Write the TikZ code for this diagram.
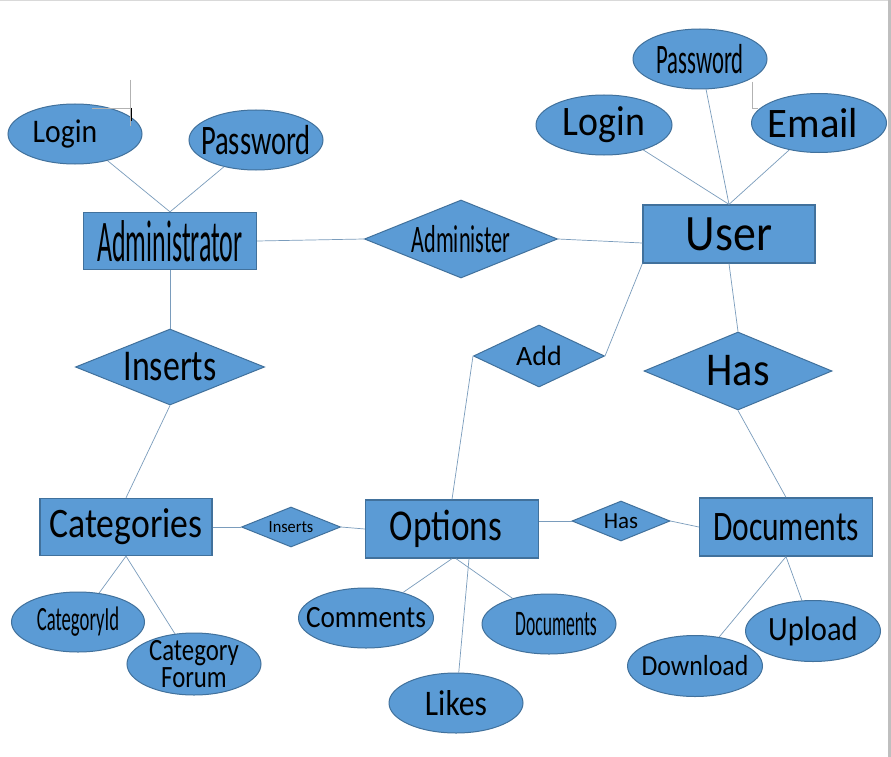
\documentclass[tikz,border=0pt]{standalone}
\usepackage{fontspec}
\setmainfont{Carlito}
\usepackage{graphicx}
\usetikzlibrary{shapes.geometric}
\usetikzlibrary{positioning}

\definecolor{erfill}{HTML}{5B9BD5}
\definecolor{erdraw}{HTML}{41719C}
\definecolor{erline}{HTML}{7A9CBC}
\newcommand{\sq}[2]{\scalebox{#1}[1]{#2}}
\newcommand{\fs}[1]{\fontsize{#1}{#1}\selectfont}

\begin{document}
\begin{tikzpicture}[x=1pt,y=-1pt,
  entity/.style={rectangle,draw=erdraw,fill=erfill,line width=1.3pt,inner sep=0pt,minimum width=173pt,minimum height=57pt},
  attr/.style={ellipse,draw=erdraw,fill=erfill,line width=1pt,inner sep=0pt,minimum width=134pt,minimum height=60pt},
  rel/.style={diamond,draw=erdraw,fill=erfill,line width=1pt,inner sep=0pt},
  link/.style={erline,line width=0.7pt}]
\fill[white] (0,0) rectangle (891,757);
\useasboundingbox (0,0) rectangle (891,757);
\draw[black!15,line width=1pt] (0,0.5) -- (891,0.5);
\draw[black!25,line width=3pt] (889.5,0) -- (889.5,757);

% administrator side
\node[entity,label={[font=\fs{59}]center:\sq{0.44}{Administrator}}] (admin) at (170,241) {};
\node[attr,label={[font=\fs{33},xshift=-10pt]center:\sq{0.9}{Login}}] (alogin) at (75,134) {};
\node[attr,label={[font=\fs{42}]center:\sq{0.68}{Password}}] (apass) at (256,140) {};
\node[rel,minimum width=193pt,minimum height=78pt,label={[font=\fs{39}]center:\sq{0.57}{Administer}}] (admr) at (461,239) {};
\node[rel,minimum width=189pt,minimum height=76pt,label={[font=\fs{44}]center:\sq{0.77}{Inserts}}] (insB) at (170,367) {};

% user side
\node[entity,minimum width=172pt,minimum height=58pt,label={[font=\fs{51}]center:\sq{0.9}{User}}] (user) at (729,234) {};
\node[attr,label={[font=\fs{42}]center:\sq{0.54}{Password}}] (upass) at (700,59) {};
\node[attr,minimum width=136pt,label={[font=\fs{42}]center:\sq{0.9}{Login}}] (ulogin) at (604,125) {};
\node[attr,minimum width=135pt,minimum height=59pt,label={[font=\fs{42},xshift=-6pt]center:\sq{0.97}{Email}}] (uemail) at (819,123) {};
\node[rel,minimum width=188pt,minimum height=78pt,label={[font=\fs{47}]center:\sq{0.9}{Has}}] (hasB) at (738,371) {};
\node[rel,minimum width=131pt,minimum height=62pt,label={[font=\fs{28}]center:Add}] (add) at (539,356) {};

% bottom row
\node[entity,minimum width=172pt,label={[font=\fs{42}]center:\sq{0.85}{Categories}}] (cat) at (126,527) {};
\node[rel,minimum width=99pt,minimum height=40pt,label={[font=\fs{17}]center:\sq{0.96}{Inserts}}] (insS) at (291,527) {};
\node[entity,minimum height=58pt,label={[font=\fs{44},xshift=-6pt]center:\sq{0.8}{Options}}] (opt) at (452,529) {};
\node[rel,minimum width=98pt,minimum height=40pt,label={[font=\fs{23}]center:Has}] (hasS) at (621,521) {};
\node[entity,minimum height=58pt,label={[font=\fs{42}]center:\sq{0.75}{Documents}}] (docs) at (786,527) {};

% attributes below
\node[attr,minimum width=133pt,label={[font=\fs{34}]center:\sq{0.55}{CategoryId}}] (catid) at (78,622) {};
\node[attr,minimum height=62pt,label={[font={\fontsize{31}{21}\selectfont},align=center]center:\sq{0.8}{Category}\\\sq{0.8}{Forum}}] (catforum) at (194,664) {};
\node[attr,minimum width=135pt,label={[font=\fs{31}]center:\sq{0.88}{Comments}}] (comm) at (366,618) {};
\node[attr,label={[font=\fs{36},xshift=7pt]center:\sq{0.49}{Documents}}] (odocs) at (549,624) {};
\node[attr,label={[font=\fs{36}]center:\sq{0.88}{Likes}}] (likes) at (456,703) {};
\node[attr,minimum width=135pt,minimum height=61pt,label={[font=\fs{29}]center:\sq{0.89}{Download}}] (download) at (695,666) {};
\node[attr,minimum width=135pt,minimum height=61pt,label={[font=\fs{34}]center:\sq{0.9}{Upload}}] (upload) at (813,631) {};

% connectors
\draw[link] (alogin) -- (admin.north);
\draw[link] (apass) -- (admin.north);
\draw[link] (admin.east) -- (admr.west);
\draw[link] (admr.east) -- ([yshift=-9pt]user.west);
\draw[link] (ulogin) -- (user.north);
\draw[link] (upass) -- (user.north);
\draw[link] (uemail) -- (user.north);
\draw[link] (admin.south) -- (insB.north);
\draw[link] (insB.south) -- (cat.north);
\draw[link] (user.south) -- (hasB.north);
\draw[link] (hasB.south) -- (docs.north);
\draw[link] (user.south west) -- (add.east);
\draw[link] (add.west) -- (opt.north);
\draw[link] (cat.east) -- (insS.west);
\draw[link] (insS.east) -- (opt.west);
\draw[link] (hasS.west -| opt.east) -- (hasS.west);
\draw[link] (hasS.east) -- (docs.west);
\draw[link] (cat.south) -- (catid);
\draw[link] (cat.south) -- (catforum);
\draw[link] (opt.south) -- (comm);
\draw[link] ([xshift=4pt]opt.south) -- (odocs);
\draw[link] ([xshift=17pt]opt.south) -- (likes);
\draw[link] (docs.south) -- (download);
\draw[link] (docs.south) -- (upload);

% stray marks
\draw[black!30,line width=0.5pt] (130,80) -- (130,126);
\draw[black!30,line width=0.5pt] (92,108) -- (130,108);
\draw[black,line width=1.2pt] (131.5,108) -- (131.5,121);
\draw[black!30,line width=0.5pt] (752.5,82) -- (752.5,108) -- (758,108);
\end{tikzpicture}
\end{document}
